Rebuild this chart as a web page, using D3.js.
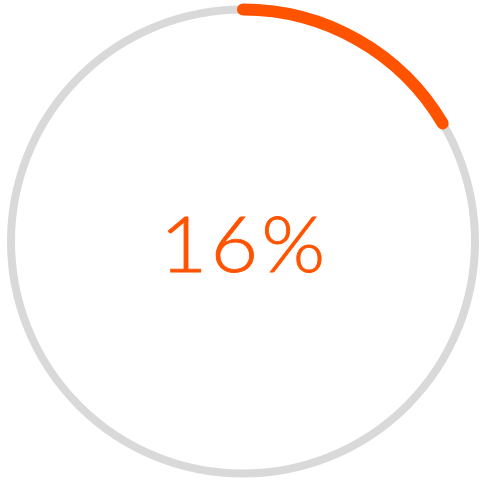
<!DOCTYPE html>
<html>
<head>
<meta charset="utf-8">
<script src="https://cdn.jsdelivr.net/npm/d3@7"></script>
<style>
  body { margin: 0; background: #fff; }
</style>
</head>
<body>
<div id="gauge"></div>
<script>
/* DATA */
const value = [0.165];
const labels = ["16%"];

const width = 481,
  height = 480,
  cx = 243,
  cy = 241.5,
  radius = 232;

const svg = d3.select("#gauge")
  .append("svg")
  .attr("width", width)
  .attr("height", height);

const g = svg.append("g")
  .attr("transform", `translate(${cx},${cy})`);

// angle scale: share of the whole -> radians
const angle = d3.scaleLinear()
  .domain([0, 1])
  .range([0, 2 * Math.PI]);

// background ring
g.append("circle")
  .attr("r", radius)
  .attr("fill", "none")
  .attr("stroke", "#d9d9d9")
  .attr("stroke-width", 8);

// progress arc, drawn as a stroked path so the ends are round
const arcPath = d => {
  const p = d3.path();
  p.arc(0, 0, radius, -Math.PI / 2, -Math.PI / 2 + angle(d));
  return p.toString();
};

g.selectAll("path.progress")
  .data(value)
  .join("path")
  .attr("class", "progress")
  .attr("d", d => arcPath(d))
  .attr("fill", "none")
  .attr("stroke", "#ff5300")
  .attr("stroke-width", 12)
  .attr("stroke-linecap", "round");

// label, stretched a little sideways to match the wide face of the original
g.selectAll("text.label")
  .data(labels)
  .join("text")
  .attr("class", "label")
  .attr("transform", "translate(0,30) scale(1.08,1)")
  .attr("x", 1)
  .attr("text-anchor", "middle")
  .style("font-family", "Lato, sans-serif")
  .style("font-weight", 300)
  .style("font-size", "76px")
  .style("stroke", "#ff5300")
  .style("stroke-width", 0.8)
  .style("letter-spacing", "3px")
  .attr("fill", "#ff5300")
  .text(d => d);
</script>
</body>
</html>
